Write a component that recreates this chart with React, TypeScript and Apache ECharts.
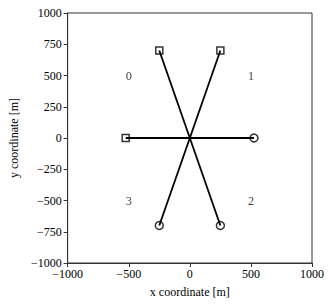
import React, { useEffect, useRef } from "react";
import * as echarts from "echarts";

const squarePoints: [number, number][] = [
  [-250, 700],
  [250, 700],
  [-525, 0],
];
const circlePoints: [number, number][] = [
  [525, 0],
  [-250, -700],
  [250, -700],
];
const origin: [number, number] = [0, 0];
const labelPoints: [number, number, string][] = [
  [-500, 500, "0"],
  [500, 500, "1"],
  [500, -500, "2"],
  [-500, -500, "3"],
];

const FONT = "Liberation Serif";
const fmt = (v: number) => String(v).replace("-", "\u2212");

export default function App() {
  const ref = useRef<HTMLDivElement>(null);
  useEffect(() => {
    if (!ref.current) return;
    const chart = echarts.init(ref.current, undefined, { renderer: "svg" });
    const segs = [...squarePoints, ...circlePoints].map((p) => ({
      type: "line",
      data: [origin, p],
      symbol: "none",
      lineStyle: { color: "#000", width: 1.8 },
      z: 2,
    }));
    chart.setOption({
      animation: false,
      grid: {
        left: 62,
        top: 13,
        width: 250,
        height: 250,
        show: true,
        borderColor: "#333",
        borderWidth: 1,
        backgroundColor: "transparent",
      },
      xAxis: {
        type: "value",
        min: -1000,
        max: 1000,
        interval: 500,
        name: "x coordinate [m]",
        nameLocation: "middle",
        nameGap: 23,
        nameTextStyle: { fontFamily: FONT, fontSize: 12, color: "#000" },
        splitLine: { show: false },
        axisLine: { onZero: false, lineStyle: { color: "#333", width: 1 } },
        axisTick: { inside: false, length: 4, lineStyle: { color: "#333" } },
        axisLabel: {
          fontFamily: FONT,
          fontSize: 12,
          color: "#000",
          margin: 5,
          formatter: fmt,
        },
      },
      yAxis: {
        type: "value",
        min: -1000,
        max: 1000,
        interval: 250,
        name: "y coordinate [m]",
        nameLocation: "middle",
        nameGap: 46,
        nameRotate: 90,
        nameTextStyle: { fontFamily: FONT, fontSize: 12, color: "#000" },
        splitLine: { show: false },
        axisLine: { onZero: false, lineStyle: { color: "#333", width: 1 } },
        axisTick: { inside: false, length: 4, lineStyle: { color: "#333" } },
        axisLabel: {
          fontFamily: FONT,
          fontSize: 12,
          color: "#000",
          margin: 6,
          formatter: fmt,
        },
      },
      series: [
        ...segs,
        {
          type: "scatter",
          data: squarePoints,
          symbol: "rect",
          symbolSize: 7,
          itemStyle: { color: "transparent", borderColor: "#000", borderWidth: 1.5 },
          z: 3,
        },
        {
          type: "scatter",
          data: circlePoints,
          symbol: "circle",
          symbolSize: 8,
          itemStyle: { color: "transparent", borderColor: "#000", borderWidth: 1.5 },
          z: 3,
        },
        {
          type: "scatter",
          data: labelPoints.map((l) => [l[0], l[1], l[2]]),
          symbolSize: 1,
          itemStyle: { color: "transparent" },
          label: {
            show: true,
            position: "inside",
            formatter: (p: any) => p.data[2],
            fontFamily: FONT,
            fontSize: 12,
            color: "#000",
            textBorderWidth: 0,
          },
          z: 4,
        },
      ],
    });
    return () => chart.dispose();
  }, []);
  return (
    <div
      ref={ref}
      style={{ position: "fixed", left: 0, top: 0, width: 333, height: 306, background: "#fff" }}
    />
  );
}
